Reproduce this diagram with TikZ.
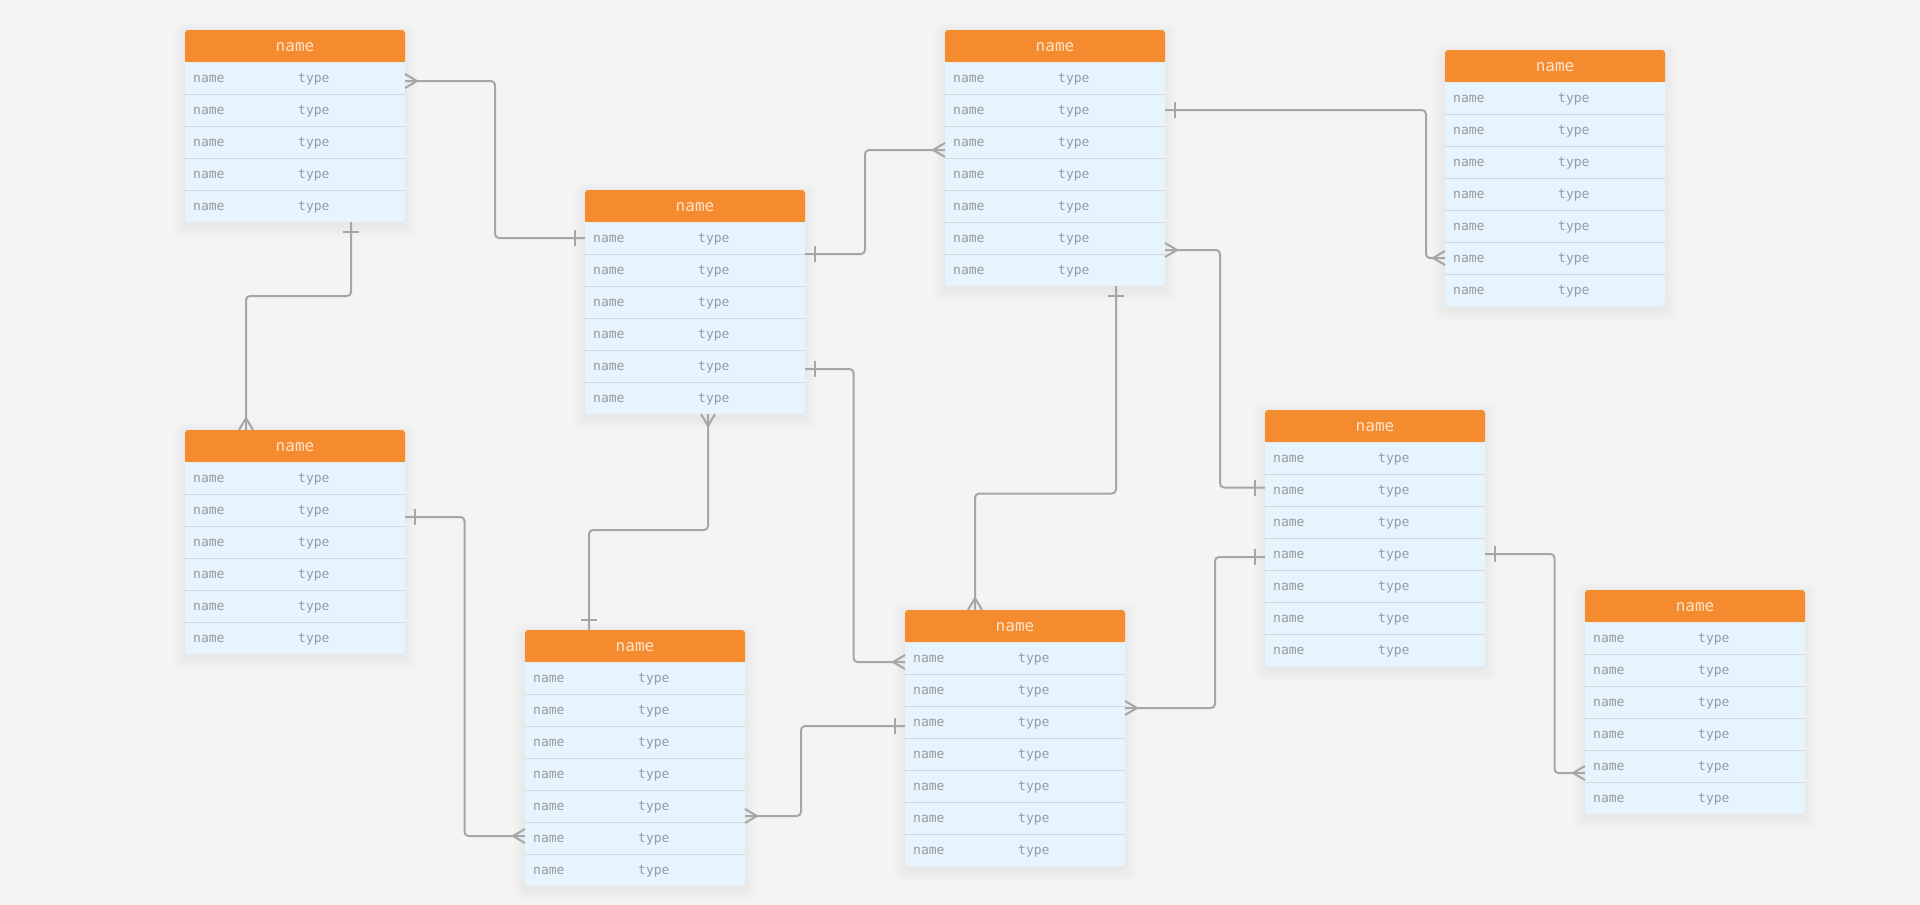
\documentclass[tikz,border=0pt]{standalone}
\usepackage{fontspec}
\setmonofont{DejaVu Sans Mono}
\usetikzlibrary{calc}

\definecolor{canvas}{HTML}{F4F4F4}
\definecolor{hdrorange}{HTML}{F58B2F}
\definecolor{hdrtext}{HTML}{FDE4CB}
\definecolor{rowfill}{HTML}{E6F5FD}
\definecolor{rowline}{HTML}{D3D7DA}
\definecolor{fieldtext}{HTML}{989898}
\definecolor{typetext}{HTML}{909CA6}
\definecolor{linkgray}{HTML}{A6A6A6}

\tikzset{
  link/.style={draw=linkgray, line width=2pt, rounded corners=4pt},
  tick/.style={draw=linkgray, line width=2pt},
  tblframe/.style={minimum width=220pt, inner sep=0pt, outer sep=0pt},
  tblrow/.style={minimum width=220pt, minimum height=32pt, inner sep=0pt, outer sep=0pt},
  tblhead/.style={minimum width=220pt, minimum height=32pt, inner sep=0pt, outer sep=0pt,
    text=hdrtext, font=\ttfamily\fontsize{16}{19}\selectfont},
  fieldname/.style={anchor=west, inner sep=0pt, text=fieldtext, font=\ttfamily\fontsize{13}{16}\selectfont},
  fieldtype/.style={anchor=base west, inner sep=0pt, text=typetext, font=\ttfamily\fontsize{13}{16}\selectfont},
  crowfoot/.pic={\draw[tick] (12,0) -- (0,7) (12,0) -- (0,-7);},
  onebar/.pic={\draw[tick] (10,-8) -- (10,8);},
}

% entity table: #1 name, #2 left x, #3 top y, #4 number of rows
\newcommand\ertable[4]{%
  \pgfmathsetmacro\tblh{32+32*#4}%
  \foreach \s in {1,...,12}{%
    \fill[black, opacity=0.005, rounded corners=8pt]
      (#2-\s, #3-\s+4) rectangle (#2+220+\s, #3+\tblh+\s+4);}
  \fill[rowfill, rounded corners=3pt] (#2,#3) rectangle (#2+220,#3+\tblh);
  \fill[hdrorange, rounded corners=3pt] (#2,#3) rectangle (#2+220,#3+32);
  \fill[hdrorange] (#2,#3+16) rectangle (#2+220,#3+32);
  \node[tblframe, minimum height=\tblh pt] (#1) at (#2+110, #3+\tblh/2) {};
  \node[tblhead] (#1-h) at (#2+110, #3+17) {name};
  \foreach \i in {1,...,#4}{%
    \node[tblrow] (#1-\i) at (#2+110, #3+16+32*\i) {};
    \node[fieldname] (#1-\i-n) at ([xshift=8pt, yshift=-1pt]#1-\i.west) {name};
    \node[fieldtype] (#1-\i-t) at ([xshift=105pt]#1-\i-n.base west) {type};
  }
  \foreach \i in {2,...,#4}{%
    \draw[rowline, line width=1pt] (#1-\i.north west) -- (#1-\i.north east);}
}

\begin{document}
\begin{tikzpicture}[x=1pt, y=-1pt]
  \fill[canvas] (0,0) rectangle (1920,905);
  \useasboundingbox (0,0) rectangle (1920,905);

  % entities
  \ertable{T1}{185}{30}{5}
  \ertable{T2}{585}{190}{6}
  \ertable{T3}{185}{430}{6}
  \ertable{T4}{945}{30}{7}
  \ertable{T5}{1445}{50}{7}
  \ertable{T6}{525}{630}{7}
  \ertable{T7}{905}{610}{7}
  \ertable{T8}{1265}{410}{7}
  \ertable{T9}{1585}{590}{6}

  % relations
  \draw[link] ([yshift=-3pt]T1-1.east) -- ++(90,0) |- (T2-1.west);
  \pic at ([yshift=-3pt]T1-1.east) {crowfoot};
  \pic[rotate=180] at (T2-1.west) {onebar};

  \draw[link] (T2-1.south east) -- ++(60,0) |- ([yshift=-8pt]T4-3.west);
  \pic at (T2-1.south east) {onebar};
  \pic[rotate=180] at ([yshift=-8pt]T4-3.west) {crowfoot};

  \draw[link] (T4-2.east) -- ++(261,0) |- (T5-6.west);
  \pic at (T4-2.east) {onebar};
  \pic[rotate=180] at (T5-6.west) {crowfoot};

  \draw[link] ([yshift=-12pt]T4-6.east) -- ++(55,0) |- ([yshift=2.5pt]T8-2.west);
  \pic at ([yshift=-12pt]T4-6.east) {crowfoot};
  \pic[rotate=180] at ([yshift=2.5pt]T8-2.west) {onebar};

  \draw[link] ([xshift=61pt]T4.south) -- ++(0,207.5) -| ([xshift=-40pt]T7.north);
  \pic[rotate=-90] at ([xshift=61pt]T4.south) {onebar};
  \pic[rotate=90] at ([xshift=-40pt]T7.north) {crowfoot};

  \draw[link] ([yshift=-3pt]T2-5.east) -- ++(48.5,0) |- ([yshift=-4pt]T7-1.west);
  \pic at ([yshift=-3pt]T2-5.east) {onebar};
  \pic[rotate=180] at ([yshift=-4pt]T7-1.west) {crowfoot};

  \draw[link] ([xshift=13pt]T2.south) -- ++(0,116) -| ([xshift=-46pt]T6.north);
  \pic[rotate=-90] at ([xshift=13pt]T2.south) {crowfoot};
  \pic[rotate=90] at ([xshift=-46pt]T6.north) {onebar};

  \draw[link] ([xshift=56pt]T1.south) -- ++(0,74) -| ([xshift=-49pt]T3.north);
  \pic[rotate=-90] at ([xshift=56pt]T1.south) {onebar};
  \pic[rotate=90] at ([xshift=-49pt]T3.north) {crowfoot};

  \draw[link] ([yshift=-7pt]T3-2.east) -- ++(59.5,0) |- ([yshift=2pt]T6-6.west);
  \pic at ([yshift=-7pt]T3-2.east) {onebar};
  \pic[rotate=180] at ([yshift=2pt]T6-6.west) {crowfoot};

  \draw[link] ([yshift=-10pt]T6-5.east) -- ++(56,0) |- ([yshift=-4pt]T7-3.west);
  \pic at ([yshift=-10pt]T6-5.east) {crowfoot};
  \pic[rotate=180] at ([yshift=-4pt]T7-3.west) {onebar};

  \draw[link] ([yshift=-2pt]T7-2.south east) -- ++(90,0) |- ([yshift=-3pt]T8-4.west);
  \pic at ([yshift=-2pt]T7-2.south east) {crowfoot};
  \pic[rotate=180] at ([yshift=-3pt]T8-4.west) {onebar};

  \draw[link] (T8-4.east) -- ++(69.5,0) |- ([yshift=-7pt]T9-5.west);
  \pic at (T8-4.east) {onebar};
  \pic[rotate=180] at ([yshift=-7pt]T9-5.west) {crowfoot};
\end{tikzpicture}
\end{document}
